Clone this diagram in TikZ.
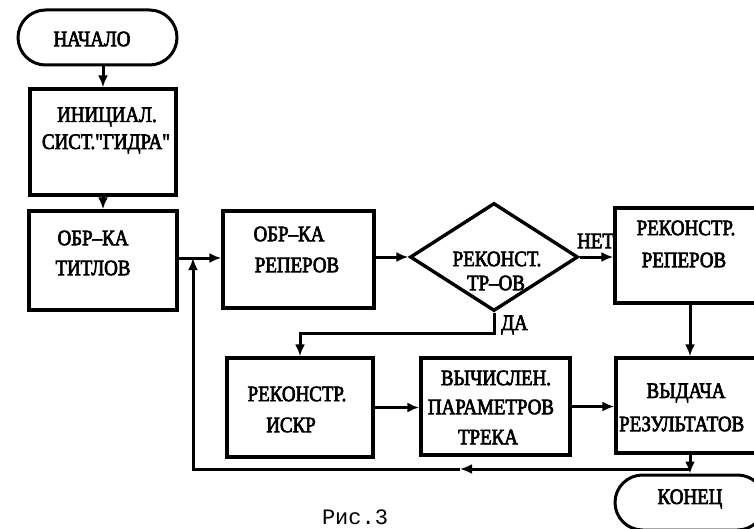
\documentclass[tikz,border=0pt]{standalone}
\usepackage{fontspec}
\setmainfont{Liberation Serif}
\newfontfamily\boxfont{Liberation Serif}[FakeBold=3,FakeStretch=0.86]
\newfontfamily\capfont{Liberation Mono}
\usetikzlibrary{shapes.misc,shapes.geometric,arrows.meta}
\begin{document}
\begin{tikzpicture}[x=1pt,y=-1pt,
  box/.style={draw,line width=3.4pt,rectangle,inner sep=0pt},
  term/.style={draw,line width=3pt,rounded rectangle,inner sep=0pt},
  dec/.style={draw,line width=3.4pt,diamond,inner sep=0pt},
  lbl/.style={font=\boxfont\fontsize{22}{26}\selectfont,inner sep=0pt},
  arr/.style={line width=3pt,-{Latex[length=12pt,width=10pt]}},
  con/.style={line width=3pt}]
\useasboundingbox (0,0) rectangle (754,529);
\clip (0,0) rectangle (754,529);
% shapes
\node[term,minimum width=159pt,minimum height=55pt] (start) at (97.5,37.5) {};
\node[box,minimum width=146pt,minimum height=106pt] (init) at (103,142) {};
\node[box,minimum width=148pt,minimum height=99pt] (titl) at (103,260.5) {};
\node[box,minimum width=151pt,minimum height=97pt] (rep) at (298.5,259.5) {};
\node[dec,minimum width=168pt,minimum height=108pt] (dia) at (494,257) {};
\node[box,minimum width=150pt,minimum height=95pt] (rrep) at (690,255.5) {};
\node[box,minimum width=146pt,minimum height=99pt] (iskr) at (300,407.5) {};
\node[box,minimum width=149pt,minimum height=97pt] (vych) at (495.5,406.5) {};
\node[box,minimum width=148pt,minimum height=95pt] (out) at (690,405.5) {};
\node[term,minimum width=150pt,minimum height=55pt] (end) at (690,502.5) {};
% texts
\node[lbl] (tstart) at (92,39) {НАЧАЛО};
\node[lbl] (tinit1) at (107,117) {ИНИЦИАЛ.};
\node[lbl] (tinit2) at (106,144) {СИСТ."ГИДРА"};
\node[lbl] (ttitl1) at (93,238) {ОБР–КА};
\node[lbl] (ttitl2) at (93,268) {ТИТЛОВ};
\node[lbl] (trep1) at (289,234) {ОБР–КА};
\node[lbl] (trep2) at (297,265) {РЕПЕРОВ};
\node[lbl] (tdia1) at (497,259) {РЕКОНСТ.};
\node[lbl] (tdia2) at (496,283) {ТР–ОВ};
\node[lbl] (trrep1) at (686,228) {РЕКОНСТР.};
\node[lbl] (trrep2) at (684,260) {РЕПЕРОВ};
\node[lbl] (tiskr1) at (297,394) {РЕКОНСТР.};
\node[lbl] (tiskr2) at (291,425) {ИСКР};
\node[lbl] (tvych1) at (496,378) {ВЫЧИСЛЕН.};
\node[lbl] (tvych2) at (491,407) {ПАРАМЕТРОВ};
\node[lbl] (tvych3) at (488,437) {ТРЕКА};
\node[lbl] (tout1) at (686,393) {ВЫДАЧА};
\node[lbl,anchor=west] (tout2) at (619,424) {РЕЗУЛЬТАТОВ};
\node[lbl] (tend) at (690,499) {КОНЕЦ};
\node[lbl,anchor=west] (tnet) at (577,241) {НЕТ};
\node[lbl,anchor=west] (tda) at (501,325) {ДА};
\node[font=\capfont\fontsize{22}{26}\selectfont,inner sep=0pt] (cap) at (355,517) {Рис.3};
% coordinates
\coordinate (jn) at (193,258);
\coordinate (da) at (494,333);
\coordinate (fbR) at (690,469);
\coordinate (fbM) at (460,469);
\coordinate (fbL) at (193,469);
% connectors
\draw[arr] (start.south -| init.north) -- (init.north);
\draw[arr] (init) -- (titl);
\draw[arr] (titl.east |- jn) -- (rep.west |- jn);
\draw[arr] (rep.east |- dia.west) -- (dia.west);
\draw[arr] (dia.east) -- (dia.east -| rrep.west);
\draw[arr] (dia.south) -- (da) -| (iskr.north);
\draw[arr] (rrep) -- (out);
\draw[arr] (iskr.east) -- (iskr.east -| vych.west);
\draw[arr] (vych.east) -- (vych.east -| out.west);
\draw[arr] (out) -- (end);
\draw[arr] (fbR) -- (fbM);
\draw[arr] (fbM) -- (fbL) -- (jn);
\end{tikzpicture}
\end{document}
